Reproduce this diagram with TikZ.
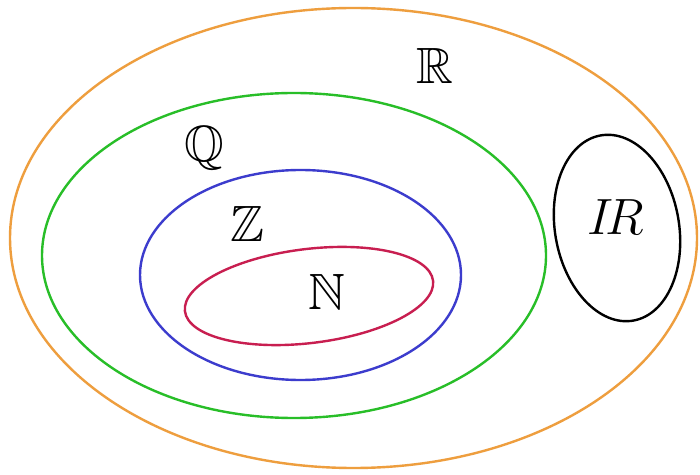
\RequirePackage{fix-cm}
\documentclass[tikz,border=0pt]{standalone}
\usepackage{amssymb}
\definecolor{setR}{RGB}{238,158,62}
\definecolor{setQ}{RGB}{40,190,40}
\definecolor{setZ}{RGB}{60,60,205}
\definecolor{setN}{RGB}{200,30,80}
\begin{document}
\begin{tikzpicture}[x=1pt,y=1pt,
  setline/.style={line width=2.4pt},
  setlabel/.style={inner sep=0pt,font=\fontsize{51}{55}\selectfont}]
\useasboundingbox (0,0) rectangle (700,474);
\fill[white] (0,0) rectangle (700,474);
\draw[setline,setR] (353.5,236) ellipse [x radius=343.5, y radius=230];
\draw[setline,setQ] (294,218.5) ellipse [x radius=252, y radius=162.5];
\draw[setline,setZ] (300.5,199) ellipse [x radius=160.5, y radius=105];
\draw[setline,setN,rotate around={7:(309,178)}] (309,178) ellipse [x radius=125, y radius=47];
\draw[setline,black,rotate around={10:(617,246)}] (617,246) ellipse [x radius=62, y radius=94];
\node[setlabel] (R) at (434.5,408.5) {$\mathbb{R}$};
\node[setlabel] (Q) at (204,326) {$\mathbb{Q}$};
\node[setlabel] (Z) at (247,250) {$\mathbb{Z}$};
\node[setlabel] (N) at (326.5,182.5) {$\mathbb{N}$};
\node[setlabel] (IR) at (615.5,256.5) {$I\!R$};
\end{tikzpicture}
\end{document}
